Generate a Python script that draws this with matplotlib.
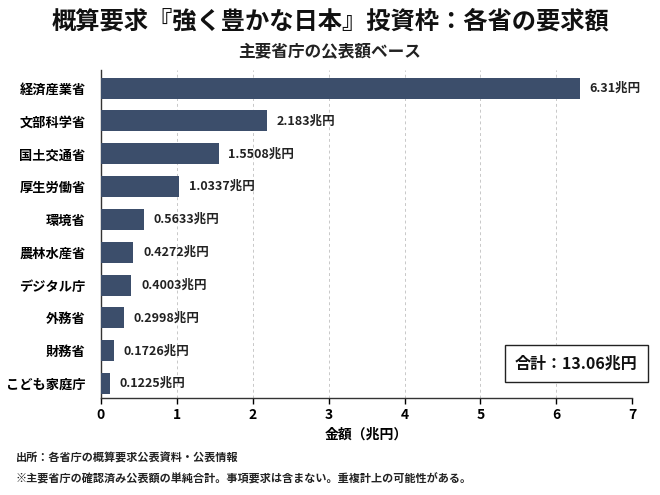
import matplotlib
matplotlib.use("Agg")
import matplotlib.pyplot as plt

plt.rcParams['font.family'] = ['Noto Sans CJK JP', 'DejaVu Sans']

ministries = ["経済産業省", "文部科学省", "国土交通省", "厚生労働省", "環境省",
              "農林水産省", "デジタル庁", "外務省", "財務省", "こども家庭庁"]
amounts = [6.31, 2.183, 1.5508, 1.0337, 0.5633, 0.4272, 0.4003, 0.2998, 0.1726, 0.1225]
amount_labels = ["6.31", "2.183", "1.5508", "1.0337", "0.5633",
                 "0.4272", "0.4003", "0.2998", "0.1726", "0.1225"]
total_label = "13.06"
xticks = [0, 1, 2, 3, 4, 5, 6, 7]

bar_color = "#3c4e6b"

fig = plt.figure(figsize=(6.6, 4.95), dpi=100)
ax = fig.add_axes([0.153, 0.196, 0.805, 0.663])

ypos = list(range(len(ministries)))
ax.barh(ypos, amounts, height=0.64, color=bar_color, zorder=3)

for y, v, lab in zip(ypos, amounts, amount_labels):
    ax.annotate(lab + "兆円", xy=(v, y), xytext=(7, 0), textcoords="offset points",
                ha="left", va="center", fontsize=9, fontweight="bold",
                color="#222222", annotation_clip=False)

ax.set_yticks(ypos)
ax.set_yticklabels(ministries, fontsize=9.5, fontweight="bold")
ax.set_ylim(9.44, -0.56)
ax.set_xlim(0, 7)
ax.set_xticks(xticks)
ax.set_xticklabels([str(t) for t in xticks], fontsize=10, fontweight="bold")
ax.tick_params(axis="y", length=0, pad=11)
ax.tick_params(axis="x", length=4, width=1, pad=3)

ax.grid(axis="x", linestyle=(0, (3, 3)), color="#c8c8c8", linewidth=0.7, zorder=0)
ax.xaxis.get_gridlines()[-1].set_visible(False)
ax.set_axisbelow(True)

for side in ["top", "right"]:
    ax.spines[side].set_visible(False)
for side in ["left", "bottom"]:
    ax.spines[side].set_color("#333333")
    ax.spines[side].set_linewidth(1.0)

ax.set_xlabel("金額（兆円）", fontsize=10, fontweight="bold", labelpad=4)

ax.text(0.895, 0.104, "合計：" + total_label + "兆円", transform=ax.transAxes,
        ha="center", va="center", fontsize=11.5, fontweight="bold", color="#111111",
        bbox=dict(boxstyle="square,pad=0.65", facecolor="white",
                  edgecolor="#222222", linewidth=1.0), zorder=5)

fig.text(0.5, 0.956, "概算要求『強く豊かな日本』投資枠：各省の要求額",
         ha="center", va="center", fontsize=17.5, fontweight="bold", color="#111111")
fig.text(0.5, 0.895, "主要省庁の公表額ベース",
         ha="center", va="center", fontsize=12, fontweight="bold", color="#222222")

fig.text(0.024, 1 - 458 / 495, "出所：各省庁の概算要求公表資料・公表情報",
         ha="left", va="center", fontsize=8, fontweight="bold", color="#222222")
fig.text(0.024, 1 - 479 / 495,
         "※主要省庁の確認済み公表額の単純合計。事項要求は含まない。重複計上の可能性がある。",
         ha="left", va="center", fontsize=8, fontweight="bold", color="#222222")

fig.savefig("out.png", dpi=100)
